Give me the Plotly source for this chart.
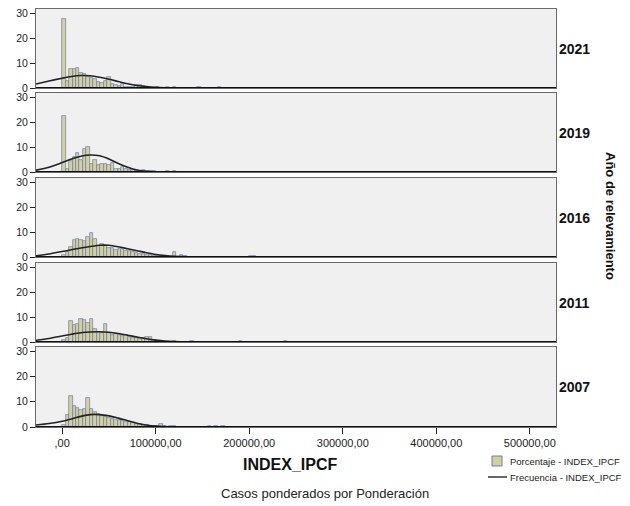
import plotly.graph_objects as go

# ---------------- data ----------------
BIN_W = 3700  # histogram bin width (INDEX_IPCF units)
YEARS = ["2021", "2019", "2016", "2011", "2007"]

# percentage per bin, contiguous bins starting at 0
h_2021 = [27.7, 3.0, 7.6, 7.8, 8.1, 6.1, 5.5, 4.6, 3.9, 3.6, 2.6, 2.0, 3.0, 4.3, 1.5,
          1.2, 0.7, 1.6, 0.5, 0.6, 0.4, 1.2, 1.3, 0.9, 0.3, 0.2, 0.1, 0.3]
h_2019 = [22.4, 1.3, 4.4, 6.1, 7.7, 4.7, 9.3, 10.1, 3.1, 4.8, 2.8, 3.1, 3.3, 2.7, 3.5,
          1.3, 1.3, 2.1, 1.1, 0.8, 0.7, 0.5, 0.4, 0.8, 0.3, 0.4, 0.5, 0.2]
h_2016 = [0.8, 2.0, 4.0, 6.7, 7.2, 7.0, 6.4, 8.0, 9.6, 7.4, 4.3, 5.1, 4.4, 3.7, 3.5,
          2.7, 3.4, 3.1, 2.6, 2.3, 2.0, 1.6, 1.3, 1.1, 0.9, 0.8, 0.6, 0.5, 0.4, 0.3]
h_2011 = [0.8, 1.5, 8.3, 7.0, 7.2, 9.4, 8.8, 7.5, 9.2, 5.2, 4.1, 3.7, 7.3, 3.7, 2.7,
          3.2, 2.9, 2.4, 2.7, 2.1, 1.6, 1.6, 1.3, 1.6, 1.9, 2.2, 0.9, 0.5, 0.3, 0.2, 0.2]
h_2007 = [0.8, 4.6, 12.4, 8.2, 7.7, 6.9, 7.3, 11.6, 7.0, 5.9, 5.0, 4.4, 4.0, 3.6, 3.3,
          2.9, 2.6, 2.4, 2.1, 1.8, 1.7, 1.3, 1.1, 0.9, 0.7, 0.5, 0.4, 0.3, 1.0, 0.2,
          0.1, 0.3, 0.5]

# isolated outlier bins (bin index, percentage)
ob_2021 = [30, 32, 39, 45, 109]
ov_2021 = [0.3, 0.4, 0.3, 0.4, 0.15]
ob_2019 = [30, 32, 35, 47]
ov_2019 = [0.3, 0.4, 0.2, 0.2]
ob_2016 = [32, 34, 35, 40, 46, 50, 54, 55]
ov_2016 = [2.0, 1.0, 0.4, 0.2, 0.2, 0.2, 0.3, 0.6]
ob_2011 = [32, 37, 46, 51, 64, 71, 76]
ov_2011 = [0.3, 0.4, 0.2, 0.5, 0.5, 0.2, 0.2]
ob_2007 = [42, 44, 46]
ov_2007 = [0.2, 0.2, 0.2]

# normal curve
curve_x = [-28000, -14000, 0, 10000, 20000, 30000, 40000, 50000, 60000, 70000,
           80000, 90000, 100000, 110000, 120000, 135000, 160000, 528000]
c_2021 = [1.6, 2.8, 3.9, 4.6, 5.0, 4.9, 4.3, 3.5, 2.6, 1.7, 1.0, 0.55, 0.25, 0.1, 0.04, 0.01, 0, 0]
c_2019 = [0.75, 1.9, 3.8, 5.2, 6.3, 6.8, 6.5, 5.2, 3.4, 1.9, 0.8, 0.3, 0.1, 0.03, 0.01, 0, 0, 0]
c_2016 = [0.5, 1.2, 2.2, 2.9, 3.6, 4.2, 4.7, 4.7, 4.1, 3.3, 2.5, 1.7, 1.0, 0.55, 0.25, 0.06, 0, 0]
c_2011 = [0.7, 1.4, 2.4, 3.1, 3.7, 4.0, 4.1, 3.9, 3.4, 2.7, 2.0, 1.3, 0.75, 0.35, 0.15, 0.03, 0, 0]
c_2007 = [0.8, 1.4, 2.3, 3.2, 4.2, 4.9, 4.9, 4.4, 3.5, 2.5, 1.5, 0.8, 0.35, 0.15, 0.05, 0.01, 0, 0]

x_tickvals = [0, 100000, 200000, 300000, 400000, 500000]
x_ticktext = [",00", "100000,00", "200000,00", "300000,00", "400000,00", "500000,00"]
y_tickvals = [0, 10, 20, 30]

HEIGHTS = {"2021": h_2021, "2019": h_2019, "2016": h_2016, "2011": h_2011, "2007": h_2007}
OUT_B = {"2021": ob_2021, "2019": ob_2019, "2016": ob_2016, "2011": ob_2011, "2007": ob_2007}
OUT_V = {"2021": ov_2021, "2019": ov_2019, "2016": ov_2016, "2011": ov_2011, "2007": ov_2007}
CURVES = {"2021": c_2021, "2019": c_2019, "2016": c_2016, "2011": c_2011, "2007": c_2007}

# ---------------- layout geometry ----------------
W, H = 630, 506
ML, MR, MT, MB = 36, 74, 9, 79
PW, PH = W - ML - MR, H - MT - MB
panels_px = {"2021": (9, 88), "2019": (93, 172), "2016": (178, 257), "2011": (263, 342), "2007": (347, 427)}


def py(yp):
    return (H - MB - yp) / PH


def px(xp):
    return (xp - ML) / PW


FONT = "Arial, Liberation Sans, sans-serif"
BAR_FILL = "#d6d193"
BAR_LINE = "#6478cc"

fig = go.Figure()
layout = dict(width=W, height=H, margin=dict(l=ML, r=MR, t=MT, b=MB, autoexpand=False),
              paper_bgcolor="white", plot_bgcolor="#f0f0f0", showlegend=False,
              bargap=0, font=dict(family=FONT, size=11, color="#222"))
shapes = []
annotations = []

for i, yr in enumerate(YEARS):
    n = i + 1
    xa = "x" if n == 1 else f"x{n}"
    ya = "y" if n == 1 else f"y{n}"
    hs = HEIGHTS[yr]
    bins = [k for k in range(len(hs)) if hs[k] > 0] + OUT_B[yr]
    vals = [hs[k] for k in range(len(hs)) if hs[k] > 0] + OUT_V[yr]
    centers = [(k + 0.5) * BIN_W for k in bins]
    fig.add_trace(go.Bar(x=centers, y=vals, width=BIN_W, xaxis=xa, yaxis=ya,
                         marker=dict(color=BAR_FILL, line=dict(color=BAR_LINE, width=0.7)),
                         name="Porcentaje - INDEX_IPCF"))
    fig.add_trace(go.Scatter(x=curve_x, y=CURVES[yr], xaxis=xa, yaxis=ya, mode="lines",
                             line=dict(color="#222", width=1.6, shape="spline", smoothing=0.8),
                             name="Frecuencia - INDEX_IPCF"))
    top, bot = panels_px[yr]
    last = (yr == YEARS[-1])
    layout["xaxis" if n == 1 else f"xaxis{n}"] = dict(
        domain=[0, 1], anchor=ya, range=[-28000, 528000],
        tickvals=x_tickvals, ticktext=x_ticktext, showticklabels=last,
        ticks="outside" if last else "", ticklen=6, tickcolor="#222",
        showgrid=False, zeroline=False, showline=True, mirror=True,
        linecolor="#6a6a6a", linewidth=1, automargin=False,
        tickfont=dict(family=FONT, size=11, color="#222"),
        **({} if n == 1 else {"matches": "x"}))
    layout["yaxis" if n == 1 else f"yaxis{n}"] = dict(
        domain=[py(bot), py(top)], anchor=xa, range=[0, 31.6],
        tickvals=y_tickvals, ticks="outside", ticklen=5, tickcolor="#222",
        showgrid=False, zeroline=False, showline=True, mirror=True,
        linecolor="#6a6a6a", linewidth=1, automargin=False,
        tickfont=dict(family=FONT, size=10.5, color="#222"))
    shapes.append(dict(type="line", xref=f"{xa} domain", yref=ya, x0=0, x1=1, y0=0, y1=0,
                       line=dict(color="#111", width=2), layer="above"))
    annotations.append(dict(text=f"<b>{yr}</b>", xref="paper", yref="paper",
                            x=1.0, y=(py(bot) + py(top)) / 2, xanchor="left", yanchor="middle",
                            xshift=1, showarrow=False,
                            font=dict(family=FONT, size=14, color="#111")))

annotations += [
    dict(text="<b>Año de relevamiento</b>", xref="paper", yref="paper", x=px(611), y=py(216),
         textangle=90, showarrow=False, xanchor="center", yanchor="middle",
         font=dict(family=FONT, size=13, color="#111")),
    dict(text="<b>INDEX_IPCF</b>", xref="paper", yref="paper", x=px(290), y=py(464),
         showarrow=False, xanchor="center", yanchor="middle",
         font=dict(family=FONT, size=16, color="#111")),
    dict(text="Casos ponderados por Ponderación", xref="paper", yref="paper", x=px(325), y=py(493),
         showarrow=False, xanchor="center", yanchor="middle",
         font=dict(family=FONT, size=13, color="#222")),
    dict(text="Porcentaje - INDEX_IPCF", xref="paper", yref="paper", x=px(508), y=py(461),
         showarrow=False, xanchor="left", yanchor="middle",
         font=dict(family=FONT, size=9.5, color="#222")),
    dict(text="Frecuencia - INDEX_IPCF", xref="paper", yref="paper", x=px(508), y=py(477),
         showarrow=False, xanchor="left", yanchor="middle",
         font=dict(family=FONT, size=9.5, color="#222")),
]
shapes += [
    dict(type="rect", xref="paper", yref="paper", x0=px(492), x1=px(502), y0=py(466), y1=py(456),
         fillcolor=BAR_FILL, line=dict(color=BAR_LINE, width=1)),
    dict(type="line", xref="paper", yref="paper", x0=px(488), x1=px(507), y0=py(477), y1=py(477),
         line=dict(color="#333", width=1.5)),
]
layout["shapes"] = shapes
layout["annotations"] = annotations
fig.update_layout(**layout)
fig.write_html("out.html", config={"displayModeBar": False},
               post_script="document.body.style.margin='0';")
